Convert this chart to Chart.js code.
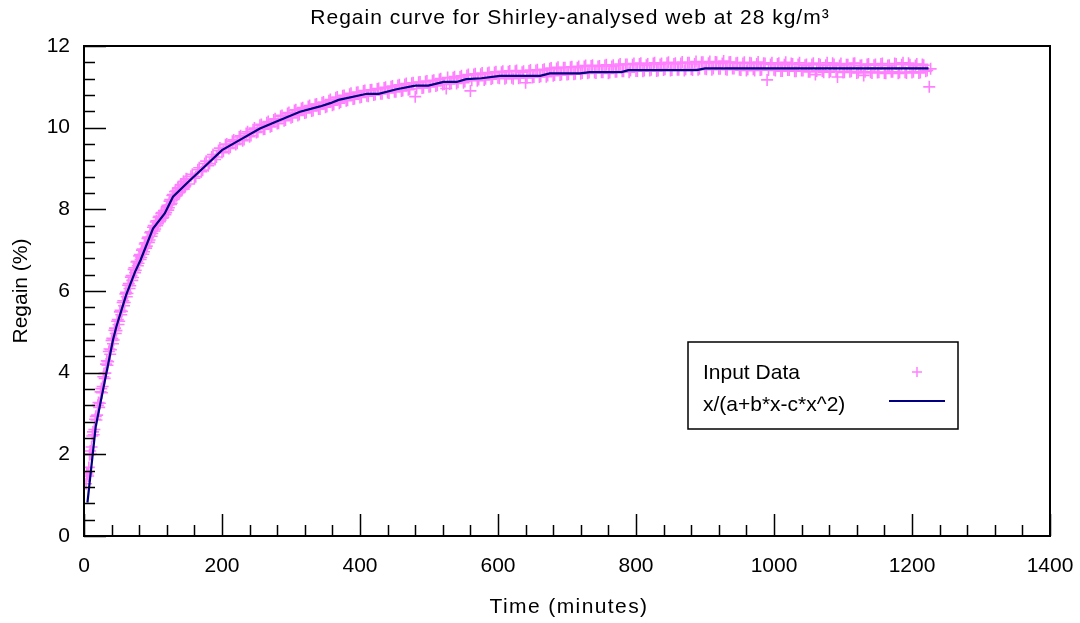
<!DOCTYPE html>
<html>
<head>
<meta charset="utf-8">
<title>Regain curve</title>
<script src="https://cdn.jsdelivr.net/npm/chart.js@4"></script>
<style>
  html, body { margin: 0; padding: 0; background: #fff; }
  #wrap { width: 1080px; height: 623px; }
</style>
</head>
<body>
<div id="wrap"><canvas id="regainChart" width="1080" height="623"></canvas></div>
<script>
// Regain curve — measured points plus fitted curve x/(a+b*x-c*x^2)

const chartTitle = 'Regain curve for Shirley-analysed web at 28 kg/m³';
const xTitle = 'Time (minutes)';
const yTitle = 'Regain (%)';
const legendLabels = ['Input Data', 'x/(a+b*x-c*x^2)'];

// Measured samples (minutes, % regain)
const sampleMinutes = [
  3, 5, 7, 9, 11, 13, 15, 17, 19, 21,
  23, 25, 27, 29, 31, 33, 35, 37, 39, 41,
  43, 45, 47, 49, 51, 53, 55, 57, 59, 61,
  63, 65, 67, 69, 71, 73, 75, 77, 79, 81,
  83, 85, 87, 89, 91, 93, 95, 97, 99, 101,
  103, 105, 107, 109, 111, 113, 115, 117, 119, 121,
  123, 125, 127, 129, 131, 133, 135, 137, 139, 141,
  143, 145, 147, 149,
  155, 160, 165, 170, 175, 180, 185, 190, 195, 200,
  205, 210, 215, 220, 225, 230, 235, 240, 245, 250,
  255, 260, 265, 270, 275, 280, 285, 290, 295, 300,
  305, 310, 315, 320, 325, 330, 335, 340, 345, 350,
  355, 360, 365, 370, 375, 380, 385, 390, 395, 400,
  405, 410, 415, 420, 425, 430, 435, 440, 445, 450,
  455, 460, 465, 470, 475, 480, 485, 490, 495, 500,
  505, 510, 515, 520, 525, 530, 535, 540, 545, 550,
  555, 560, 565, 570, 575, 580, 585, 590, 595, 600,
  605, 610, 615, 620, 625, 630, 635, 640, 645, 650,
  655, 660, 665, 670, 675, 680, 685, 690, 695, 700,
  705, 710, 715, 720, 725, 730, 735, 740, 745, 750,
  755, 760, 765, 770, 775, 780, 785, 790, 795, 800,
  805, 810, 815, 820, 825, 830, 835, 840, 845, 850,
  855, 860, 865, 870, 875, 880, 885, 890, 895, 900,
  905, 910, 915, 920, 925, 930, 935, 940, 945, 950,
  955, 960, 965, 970, 975, 980, 985, 990, 995, 1000,
  1005, 1010, 1015, 1020, 1025, 1030, 1035, 1040, 1045, 1050,
  1055, 1060, 1065, 1070, 1075, 1080, 1085, 1090, 1095, 1100,
  1105, 1110, 1115, 1120, 1125, 1130, 1135, 1140, 1145, 1150,
  1155, 1160, 1165, 1170, 1175, 1180, 1185, 1190, 1195, 1200,
  1205, 1210, 1215, 1220, 1225
];
const sampleRegain = [
  1.28, 1.52, 1.68, 2.08, 2.18, 2.55, 2.61, 2.93, 2.96, 3.27,
  3.25, 3.61, 3.66, 3.98, 3.99, 4.29, 4.27, 4.58, 4.56, 4.84,
  4.80, 5.09, 5.03, 5.30, 5.26, 5.53, 5.50, 5.76, 5.72, 5.97,
  5.94, 6.18, 6.13, 6.38, 6.33, 6.57, 6.51, 6.73, 6.68, 6.89,
  6.82, 7.03, 6.96, 7.18, 7.10, 7.32, 7.25, 7.45, 7.41, 7.60,
  7.52, 7.72, 7.65, 7.83, 7.74, 7.92, 7.81, 7.97, 7.92, 8.10,
  8.04, 8.24, 8.15, 8.36, 8.28, 8.45, 8.36, 8.53, 8.44, 8.61,
  8.52, 8.68, 8.58, 8.74,
  8.81, 8.76, 8.97, 8.92, 9.12, 9.07, 9.28, 9.22, 9.44, 9.39,
  9.58, 9.49, 9.67, 9.59, 9.77, 9.68, 9.86, 9.78, 9.95, 9.88,
  10.06, 9.96, 10.12, 10.02, 10.19, 10.10, 10.28, 10.17, 10.35, 10.24,
  10.42, 10.30, 10.47, 10.36, 10.52, 10.41, 10.57, 10.46, 10.61, 10.50,
  10.66, 10.55, 10.73, 10.60, 10.78, 10.66, 10.82, 10.70, 10.86, 10.74,
  10.90, 10.78, 10.92, 10.80, 10.95, 10.83, 10.97, 10.86, 11.00, 10.88,
  11.03, 10.90, 11.06, 10.93, 11.09, 10.76, 11.11, 10.97, 11.13, 11.00,
  11.15, 11.02, 11.18, 11.06, 10.96, 11.07, 11.22, 11.08, 11.24, 11.10,
  11.28, 10.90, 11.30, 11.15, 11.31, 11.17, 11.33, 11.19, 11.35, 11.22,
  11.36, 11.20, 11.37, 11.22, 11.38, 11.21, 11.36, 11.10, 11.39, 11.23,
  11.40, 11.24, 11.41, 11.25, 11.44, 11.27, 11.45, 11.29, 11.47, 11.30,
  11.48, 11.31, 11.47, 11.32, 11.50, 11.33, 11.51, 11.35, 11.50, 11.36,
  11.52, 11.33, 11.50, 11.37, 11.53, 11.38, 11.55, 11.36, 11.54, 11.39,
  11.56, 11.38, 11.53, 11.40, 11.57, 11.39, 11.55, 11.41, 11.58, 11.40,
  11.56, 11.42, 11.57, 11.40, 11.59, 11.43, 11.56, 11.42, 11.60, 11.44,
  11.58, 11.42, 11.61, 11.44, 11.57, 11.43, 11.60, 11.45, 11.58, 11.42,
  11.57, 11.40, 11.59, 11.43, 11.56, 11.41, 11.58, 11.17, 11.55, 11.42,
  11.56, 11.39, 11.54, 11.41, 11.57, 11.38, 11.55, 11.40, 11.53, 11.37,
  11.55, 11.30, 11.56, 11.39, 11.53, 11.36, 11.58, 11.38, 11.52, 11.35,
  11.54, 11.37, 11.57, 11.34, 11.52, 11.28, 11.55, 11.36, 11.53, 11.35,
  11.56, 11.34, 11.52, 11.37, 11.57, 11.33, 11.54, 11.36, 11.58, 11.35,
  11.52, 11.34, 11.55, 11.38, 11.00
];

// Further readings taken between the ones above
const extraMinutes = [
  4, 6, 8, 10, 12, 14, 16, 18, 20, 22,
  24, 26, 28, 30, 32, 34, 36, 38, 40, 42,
  44, 46, 48, 50, 52, 54, 56, 58, 60, 62,
  64, 66, 68, 70, 72, 74, 76, 78, 80, 82,
  84, 86, 88, 90, 92, 94, 96, 98, 100, 102,
  104, 106, 108, 110, 112, 114, 116, 118, 120, 122,
  124, 126, 128, 130, 132, 134, 136, 138, 140, 142,
  144, 146, 148,
  152, 157, 162, 167, 172, 177, 182, 187, 192, 197,
  202, 207, 212, 217, 222, 227, 232, 237, 242, 247,
  252, 257, 262, 267, 272, 277, 282, 287, 292, 297,
  302, 307, 312, 317, 322, 327, 332, 337, 342, 347,
  352, 357, 362, 367, 372, 377, 382, 387, 392, 397,
  402, 407, 412, 417, 422, 427, 432, 437, 442, 447,
  452, 457, 462, 467, 472, 477, 482, 487, 492, 497,
  502, 507, 512, 517, 522, 527, 532, 537, 542, 547,
  552, 557, 562, 567, 572, 577, 582, 587, 592, 597,
  602, 607, 612, 617, 622, 627, 632, 637, 642, 647,
  652, 657, 662, 667, 672, 677, 682, 687, 692, 697,
  702, 707, 712, 717, 722, 727, 732, 737, 742, 747,
  752, 757, 762, 767, 772, 777, 782, 787, 792, 797,
  802, 807, 812, 817, 822, 827, 832, 837, 842, 847,
  852, 857, 862, 867, 872, 877, 882, 887, 892, 897,
  902, 907, 912, 917, 922, 927, 932, 937, 942, 947,
  952, 957, 962, 967, 972, 977, 982, 987, 992, 997,
  1002, 1007, 1012, 1017, 1022, 1027, 1032, 1037, 1042, 1047,
  1052, 1057, 1062, 1067, 1072, 1077, 1082, 1087, 1092, 1097,
  1102, 1107, 1112, 1117, 1122, 1127, 1132, 1137, 1142, 1147,
  1152, 1157, 1162, 1167, 1172, 1177, 1182, 1187, 1192, 1197,
  1202, 1207, 1212, 1217, 1222, 1227
];
const extraRegain = [
  1.55, 1.47, 1.99, 2.01, 2.45, 2.48, 2.86, 2.84, 3.20, 3.15,
  3.53, 3.51, 3.90, 3.86, 4.21, 4.18, 4.52, 4.45, 4.79, 4.71,
  5.04, 4.96, 5.26, 5.18, 5.49, 5.42, 5.72, 5.64, 5.93, 5.86,
  6.14, 6.06, 6.34, 6.26, 6.53, 6.45, 6.71, 6.62, 6.86, 6.77,
  7.00, 6.90, 7.15, 7.05, 7.29, 7.19, 7.43, 7.34, 7.56, 7.47,
  7.69, 7.60, 7.80, 7.70, 7.90, 7.78, 7.97, 7.87, 8.06, 7.98,
  8.20, 8.12, 8.34, 8.24, 8.43, 8.33, 8.52, 8.41, 8.60, 8.49,
  8.68, 8.55, 8.75,
  8.62, 8.86, 8.80, 9.02, 8.96, 9.18, 9.12, 9.34, 9.28, 9.50,
  9.42, 9.60, 9.52, 9.70, 9.62, 9.80, 9.71, 9.90, 9.81, 9.99,
  9.90, 10.08, 9.97, 10.15, 10.04, 10.22, 10.11, 10.30, 10.19, 10.37,
  10.26, 10.44, 10.32, 10.49, 10.37, 10.54, 10.42, 10.58, 10.46, 10.63,
  10.52, 10.69, 10.57, 10.75, 10.63, 10.79, 10.67, 10.84, 10.71, 10.87,
  10.75, 10.91, 10.77, 10.93, 10.81, 10.96, 10.83, 10.99, 10.85, 11.02,
  10.88, 11.05, 10.91, 11.08, 10.94, 11.10, 10.96, 11.12, 10.98, 11.14,
  11.01, 11.16, 11.04, 11.20, 11.07, 11.23, 11.09, 11.25, 11.11, 11.27,
  11.13, 11.30, 11.16, 11.32, 11.18, 11.34, 11.20, 11.35, 11.21, 11.37,
  11.21, 11.38, 11.22, 11.39, 11.20, 11.40, 11.23, 11.38, 11.22, 11.41,
  11.24, 11.42, 11.26, 11.43, 11.28, 11.46, 11.29, 11.48, 11.30, 11.47,
  11.31, 11.49, 11.32, 11.50, 11.34, 11.52, 11.35, 11.53, 11.34, 11.51,
  11.36, 11.54, 11.35, 11.53, 11.37, 11.56, 11.38, 11.55, 11.40, 11.57,
  11.39, 11.58, 11.40, 11.56, 11.42, 11.59, 11.40, 11.57, 11.43, 11.60,
  11.41, 11.58, 11.42, 11.61, 11.43, 11.59, 11.41, 11.62, 11.44, 11.60,
  11.43, 11.62, 11.45, 11.60, 11.44, 11.63, 11.42, 11.61, 11.45, 11.59,
  11.41, 11.60, 11.43, 11.58, 11.40, 11.61, 11.42, 11.57, 11.41, 11.59,
  11.40, 11.58, 11.39, 11.60, 11.41, 11.56, 11.38, 11.59, 11.40, 11.55,
  11.37, 11.58, 11.39, 11.54, 11.36, 11.59, 11.38, 11.55, 11.24, 11.57,
  11.36, 11.54, 11.38, 11.58, 11.35, 11.53, 11.37, 11.56, 11.34, 11.55,
  11.36, 11.57, 11.33, 11.53, 11.37, 11.56, 11.35, 11.59, 11.34, 11.54,
  11.37, 11.56, 11.35, 11.53, 11.40, 11.44
];

// Fitted curve
const fitMinutes = [5, 17, 42, 47, 61, 74, 82, 100, 117, 129, 154, 175, 200, 226, 255, 279,
  313, 342, 357, 369, 410, 427, 453, 480, 499, 521, 540, 554, 576, 603, 661, 675,
  719, 733, 779, 789, 888, 900, 1224];
const fitRegain = [0.82, 2.68, 4.80, 5.13, 5.90, 6.47, 6.76, 7.53, 7.90, 8.31, 8.72, 9.05, 9.45, 9.70, 9.98, 10.15,
  10.39, 10.52, 10.60, 10.68, 10.83, 10.83, 10.94, 11.03, 11.03, 11.12, 11.12, 11.19, 11.21, 11.27, 11.27, 11.33,
  11.33, 11.36, 11.36, 11.41, 11.41, 11.45, 11.45];

// Axis ranges and tick steps
const xRange = [0, 1400];
const yRange = [0, 12];
const xMajor = 200, xMinor = 40;
const yMajor = 2, yMinor = 0.4;

const PINK = '#ff80ff';
const NAVY = '#000080';
const FONT = '"Liberation Sans", Arial, sans-serif';

Chart.defaults.font.family = FONT;
Chart.defaults.font.size = 21;
Chart.defaults.color = '#000';

const toPoints = (xs, ys) => xs.map((v, i) => ({ x: v, y: ys[i] }));

// gnuplot-style frame: border box, inward ticks, titles, boxed legend
const gnuFrame = {
  id: 'gnuFrame',
  afterDraw(chart) {
    const { ctx, chartArea: a, scales: { x, y } } = chart;
    const midX = (a.left + a.right) / 2;
    ctx.save();
    ctx.strokeStyle = '#000';

    // ticks
    ctx.lineWidth = 1.5;
    ctx.beginPath();
    for (let v = xRange[0]; v <= xRange[1] + 1e-6; v += xMinor) {
      const px = Math.round(x.getPixelForValue(v)) + 0.5;
      const len = Math.abs(v % xMajor) < 1e-6 ? 22 : 11;
      ctx.moveTo(px, a.bottom); ctx.lineTo(px, a.bottom - len);
    }
    for (let v = yRange[0]; v <= yRange[1] + 1e-6; v += yMinor) {
      const py = Math.round(y.getPixelForValue(v)) + 0.5;
      const r = Math.abs(v / yMajor - Math.round(v / yMajor)) < 1e-6;
      ctx.moveTo(a.left, py); ctx.lineTo(a.left + (r ? 22 : 11), py);
    }
    ctx.stroke();

    // border
    ctx.lineWidth = 2;
    ctx.strokeRect(a.left, a.top, a.right - a.left, a.bottom - a.top);

    // title and x-axis title (slightly spaced lettering)
    ctx.fillStyle = '#000';
    ctx.font = '21px ' + FONT;
    ctx.textAlign = 'center';
    ctx.textBaseline = 'middle';
    ctx.letterSpacing = '1px';
    ctx.fillText(chartTitle, midX + 3, 18);
    ctx.letterSpacing = '1.4px';
    ctx.fillText(xTitle, midX + 2, 607);
    ctx.letterSpacing = '0px';

    // legend box
    const lx = a.left + 604, ly = a.top + 296;
    ctx.lineWidth = 1.5;
    ctx.strokeRect(lx, ly, 270, 87);
    ctx.textAlign = 'left';
    ctx.fillText(legendLabels[0], lx + 15, ly + 31);
    ctx.fillText(legendLabels[1], lx + 15, ly + 63);
    ctx.strokeStyle = PINK;
    ctx.lineWidth = 1.5;
    ctx.beginPath();
    ctx.moveTo(lx + 224, ly + 30); ctx.lineTo(lx + 234, ly + 30);
    ctx.moveTo(lx + 229, ly + 25); ctx.lineTo(lx + 229, ly + 35);
    ctx.stroke();
    ctx.strokeStyle = NAVY;
    ctx.lineWidth = 2;
    ctx.beginPath();
    ctx.moveTo(lx + 201, ly + 59); ctx.lineTo(lx + 257, ly + 59);
    ctx.stroke();
    ctx.restore();
  }
};

new Chart(document.getElementById('regainChart'), {
  type: 'scatter',
  data: {
    datasets: [
      {
        label: legendLabels[0],
        data: toPoints(sampleMinutes, sampleRegain).concat(toPoints(extraMinutes, extraRegain)),
        pointStyle: 'cross',
        pointRadius: 6,
        borderColor: PINK,
        backgroundColor: PINK,
        borderWidth: 1.6,
        order: 2
      },
      {
        type: 'line',
        label: legendLabels[1],
        data: toPoints(fitMinutes, fitRegain),
        borderColor: NAVY,
        borderWidth: 2.2,
        pointRadius: 0,
        tension: 0,
        fill: false,
        order: 1
      }
    ]
  },
  plugins: [gnuFrame],
  options: {
    responsive: false,
    animation: false,
    events: [],
    layout: { padding: { top: 46, right: 30, left: 0, bottom: 0 } },
    plugins: { legend: { display: false }, title: { display: false }, tooltip: { enabled: false } },
    scales: {
      x: {
        type: 'linear',
        min: xRange[0], max: xRange[1],
        grid: { display: false, drawTicks: false },
        border: { display: false },
        ticks: { stepSize: xMajor, padding: 18, maxRotation: 0, callback: v => String(v) },
        title: { display: false },
        afterFit: s => { s.height = 87; s.paddingLeft = 0; s.paddingRight = 0; }
      },
      y: {
        min: yRange[0], max: yRange[1],
        grid: { display: false, drawTicks: false },
        border: { display: false },
        ticks: { stepSize: yMajor, padding: 14, callback: v => String(v) },
        title: { display: true, text: yTitle, padding: { top: 9, bottom: 0 } },
        afterFit: s => { s.width = 84; s.paddingTop = 0; s.paddingBottom = 0; }
      }
    }
  }
});
</script>
</body>
</html>
